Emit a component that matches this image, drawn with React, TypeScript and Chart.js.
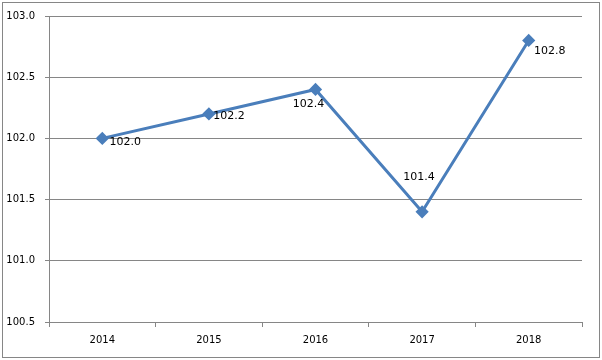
import React, { useEffect, useRef } from "react";
import { Chart, registerables } from "chart.js";

Chart.register(...registerables);

const categories = ["2014", "2015", "2016", "2017", "2018"];
const values = [102.0, 102.2, 102.4, 101.4, 102.8];
const yMin = 100.5;
const yMax = 103.0;
const yStep = 0.5;

// label placement offsets (style only), relative to each point
const labelOffsets: [number, number][] = [
  [23, 4],
  [20, 2],
  [-7, 15],
  [-3, -35],
  [21, 11],
];

const GRAY = "#868686";
const LINE = "#4a7ebb";

const framePlugin = {
  id: "frame",
  beforeDraw(chart: any) {
    const ctx = chart.ctx;
    ctx.save();
    ctx.fillStyle = "#ffffff";
    ctx.fillRect(0, 0, chart.width, chart.height);
    ctx.strokeStyle = GRAY;
    ctx.lineWidth = 1;
    ctx.strokeRect(2.5, 2.5, chart.width - 5, chart.height - 5);
    ctx.restore();
  },
};

const labelPlugin = {
  id: "valueLabels",
  afterDatasetsDraw(chart: any) {
    const ctx = chart.ctx;
    const meta = chart.getDatasetMeta(0);
    ctx.save();
    ctx.font = "11px 'DejaVu Sans'";
    ctx.fillStyle = "#000000";
    ctx.textAlign = "center";
    ctx.textBaseline = "middle";
    meta.data.forEach((pt: any, i: number) => {
      const v = chart.data.datasets[0].data[i] as number;
      const [dx, dy] = labelOffsets[i];
      ctx.fillText(v.toFixed(1), pt.x + dx, pt.y + dy);
    });
    ctx.restore();
  },
};

export default function App() {
  const ref = useRef<HTMLCanvasElement>(null);
  useEffect(() => {
    document.body.style.margin = "0";
    const chart = new Chart(ref.current!, {
      type: "line",
      data: {
        labels: categories,
        datasets: [
          {
            data: values,
            borderColor: LINE,
            backgroundColor: LINE,
            borderWidth: 3,
            pointStyle: "rectRot",
            pointRadius: 4.5,
            pointBackgroundColor: LINE,
            pointBorderColor: LINE,
            tension: 0,
          },
        ],
      },
      options: {
        responsive: false,
        animation: false,
        layout: { padding: { left: 0, right: 20, top: 16, bottom: 0 } },
        plugins: {
          legend: { display: false },
          tooltip: { enabled: false },
        },
        scales: {
          x: {
            offset: true,
            grid: {
              offset: true,
              drawOnChartArea: false,
              drawTicks: true,
              tickLength: 5,
              color: GRAY,
            },
            border: { color: GRAY },
            ticks: {
              color: "#000000",
              font: { family: "'DejaVu Sans'", size: 10 },
              padding: 7,
              maxRotation: 0,
            },
            afterFit(scale: any) {
              scale.height = 38;
            },
          },
          y: {
            min: yMin,
            max: yMax,
            ticks: {
              stepSize: yStep,
              color: "#000000",
              font: { family: "'DejaVu Sans'", size: 10 },
              padding: 10,
              callback: (v: any) => Number(v).toFixed(1),
            },
            grid: { color: GRAY, tickLength: 4 },
            border: { color: GRAY },
            afterFit(scale: any) {
              scale.width = 49;
            },
          },
        },
      },
      plugins: [framePlugin, labelPlugin],
    });
    return () => chart.destroy();
  }, []);
  return <canvas ref={ref} width={602} height={360} style={{ display: "block" }} />;
}
